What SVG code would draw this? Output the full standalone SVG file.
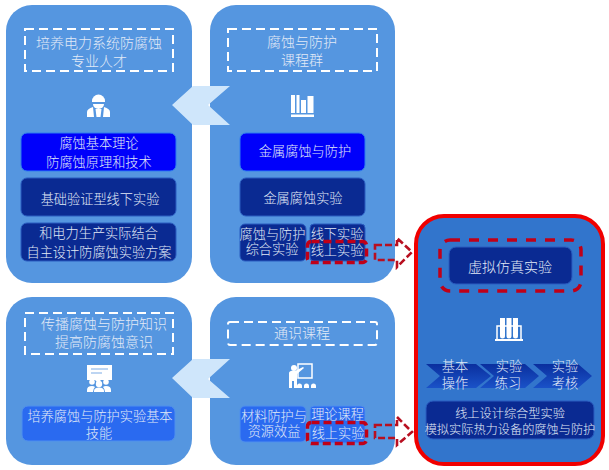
<svg xmlns="http://www.w3.org/2000/svg" width="609" height="470" viewBox="0 0 609 470">
<defs>
<linearGradient id="chev" x1="0" y1="0" x2="0" y2="1"><stop offset="0" stop-color="#0a2f9e"/><stop offset="1" stop-color="#1a52c8"/></linearGradient>
</defs>
<style>
text{font-family:"Noto Sans CJK SC","Liberation Sans",sans-serif;fill:#e2eaf7;text-anchor:middle;font-size:13.2px;font-weight:300}
.panel{fill:#5596e0}
.title{fill:none;stroke:#fff;stroke-width:2;stroke-dasharray:9 5}
.t14{font-size:14px}
.t12{font-size:12.2px}
.blue{fill:#0000fb;stroke:#2f7df0;stroke-width:1}
.navy{fill:#0a2a92;stroke:#2a5cc0;stroke-width:1}
.mid{fill:#2a6af0;stroke:#4f8fee;stroke-width:1}
.rd{fill:none;stroke:#c00018;stroke-width:3.5;stroke-dasharray:8 4}
.rda{fill:none;stroke:#b80f20;stroke-width:2.6;stroke-dasharray:7 3}
.ic{fill:#fff}
.icl{fill:none;stroke:#fff;stroke-width:1.5}
.wedge{fill:#cfe6fb}
</style>

<g id="node-talent">
<rect class="panel" x="6" y="5" width="186" height="278" rx="26"/>
<rect class="title" x="25" y="29" width="148" height="42"/>
<text class="t14" x="99" y="48">培养电力系统防腐蚀</text>
<text class="t14" x="99" y="66">专业人才</text>
<path class="ic" d="M92 101a6.500 6.500 0 0 1 13 0v1h-13z"/>
<path class="ic" d="M93 104h11a5.500 5 0 0 1-11 0z"/>
<path class="ic" d="M87 117v-5q0-3 6-5l1 10zM110 117v-5q0-3-6-5l-1 10zM95.500 109h6l-1 8h-4z"/>
<rect class="blue" x="21" y="133" width="155" height="38" rx="6"/>
<text x="99" y="148">腐蚀基本理论</text>
<text x="99" y="167">防腐蚀原理和技术</text>
<rect class="navy" x="21" y="178" width="155" height="38" rx="6"/>
<text x="100" y="204">基础验证型线下实验</text>
<rect class="navy" x="21" y="223" width="155" height="38" rx="6"/>
<text x="98.500" y="238">和电力生产实际结合</text>
<text x="99" y="257">自主设计防腐蚀实验方案</text>
</g>

<g id="node-courses">
<rect class="panel" x="210" y="5" width="185" height="278" rx="26"/>
<rect class="title" x="228" y="29" width="149" height="42"/>
<text class="t14" x="302" y="47">腐蚀与防护</text>
<text class="t14" x="302" y="65">课程群</text>
<path class="ic" d="M291 95h4v18h-4zM296.500 95h3v18h-3zM301 100h5v13h-5zM307.500 96h6v17h-6zM291 114.500h23v2.500h-23z"/>
<rect class="blue" x="240" y="133" width="125" height="38" rx="6"/>
<text x="305" y="156">金属腐蚀与防护</text>
<rect class="navy" x="240" y="178" width="125" height="38" rx="6"/>
<text x="303" y="203">金属腐蚀实验</text>
<rect class="navy" x="240" y="224" width="66" height="37" rx="5"/>
<text x="272.500" y="239">腐蚀与防护</text>
<text x="272" y="254">综合实验</text>
<rect class="navy" x="310" y="224" width="55" height="37" rx="4"/>
<text x="337" y="239">线下实验</text>
<text x="337" y="255">线上实验</text>
<rect class="rd" x="307.500" y="241.500" width="59" height="21" rx="4"/>
</g>

<g id="node-awareness">
<rect class="panel" x="6" y="297" width="186" height="168" rx="26"/>
<rect class="title" x="25" y="313" width="148" height="41"/>
<text class="t14" x="104" y="329">传播腐蚀与防护知识</text>
<text class="t14" x="104" y="347">提高防腐蚀意识</text>
<path class="ic" d="M87 365h25v15h-11l-3 3-3-3h-8z"/>
<path d="M91 369h17M91 373h11" stroke="#a8c8ee" stroke-width="1.500"/>
<circle class="ic" cx="92" cy="382" r="2.800"/><circle class="ic" cx="99" cy="384" r="3.200"/><circle class="ic" cx="106" cy="382" r="2.800"/>
<path class="ic" d="M87 390q0-4 5-4 2 0 3 1-2 2-2 5h-6zM111 390q0-4-5-4-2 0-3 1 2 2 2 5h6zM94 391q0-3.500 5-3.500t5 3.500v1h-10z"/>
<rect class="mid" x="22" y="406" width="153" height="35" rx="6"/>
<text x="100" y="421">培养腐蚀与防护实验基本</text>
<text x="99" y="438">技能</text>
</g>

<g id="node-general">
<rect class="panel" x="210" y="297" width="185" height="168" rx="26"/>
<rect class="title" x="228" y="322" width="149" height="23" rx="2"/>
<text class="t14" x="302" y="338">通识课程</text>
<rect class="icl" x="298" y="364" width="14" height="14"/>
<circle class="ic" cx="294" cy="368" r="3"/>
<path class="ic" d="M289 373q0-2.500 5-2.500l1 .5 8-4 1 1-7 6v14h-3v-7h-2v7h-3z"/>
<path class="ic" d="M297 386q0-2.500 2.500-2.500t2.500 2.500v2h-5zM304 386q0-2.500 2.500-2.500t2.500 2.500v2h-5zM311 386q0-2.500 2.500-2.500t2.500 2.500v2h-5z"/>
<rect class="mid" x="240" y="406" width="66" height="36" rx="5"/>
<text x="274" y="421">材料防护与</text>
<text x="274" y="436">资源效益</text>
<rect class="mid" x="310" y="406" width="55" height="37" rx="4"/>
<text x="337.500" y="419">理论课程</text>
<text x="338" y="438">线上实验</text>
<rect class="rd" x="307.500" y="422.500" width="59" height="21" rx="4"/>
</g>

<g id="node-virtual">
<rect x="416" y="216" width="187" height="248" rx="28" fill="#3275cc" stroke="#f00000" stroke-width="4"/>
<rect class="navy" x="449" y="247" width="123" height="37" rx="7"/>
<text class="t14" x="510" y="272">虚拟仿真实验</text>
<rect x="440" y="240" width="141" height="51" rx="10" fill="none" stroke="#c00018" stroke-width="3.500" stroke-dasharray="10 9"/>
<path class="ic" d="M495 339h28v2h-28z"/>
<path class="icl" d="M497 339v-13h24v13"/>
<path class="ic" d="M500 318h5v18a2.500 2.500 0 0 1-5 0zM506.500 318h5v18a2.500 2.500 0 0 1-5 0zM513 318h5v18a2.500 2.500 0 0 1-5 0z"/>
<path d="M426 364h50l15 12-15 12h-50l14-12z" fill="url(#chev)"/>
<path d="M480 364h45l14 12-14 12h-45l14-12z" fill="url(#chev)"/>
<path d="M533 364h45l14 12-14 12h-45l14-12z" fill="url(#chev)"/>
<text x="455" y="371">基本</text>
<text x="455" y="388">操作</text>
<text x="509" y="371">实验</text>
<text x="508" y="388">练习</text>
<text x="565" y="371">实验</text>
<text x="565" y="388">考核</text>
<rect class="navy" x="426" y="401" width="168" height="38" rx="7"/>
<text class="t12" x="510" y="418">线上设计综合型实验</text>
<text class="t12" x="510" y="434">模拟实际热力设备的腐蚀与防护</text>
</g>

<g id="connectors">
<path class="wedge" d="M172 105l21-19h37l-22 19 22 20h-37z"/>
<path class="wedge" d="M172 378l21-19h37l-22 20 22 19h-37z"/>
<path class="rda" d="M375 245h22v-7l15 14-15 15v-7h-22z"/>
<path class="rda" d="M375 425h22v-8l15 15-15 13v-7h-22z"/>
</g>
</svg>
